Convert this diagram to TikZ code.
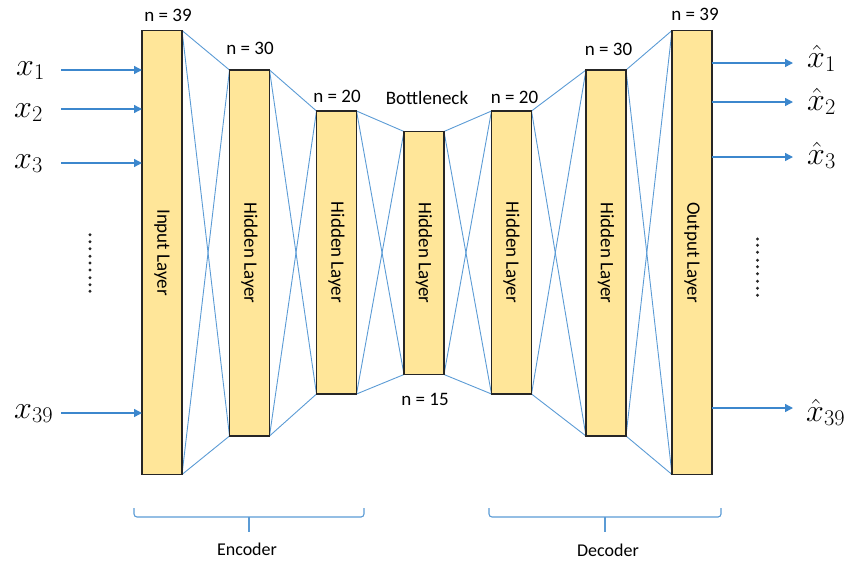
\RequirePackage{fix-cm}
\documentclass[tikz,border=0pt]{standalone}
\usepackage{fontspec}
\setmainfont{Carlito}
\usetikzlibrary{arrows.meta}
\definecolor{boxfill}{HTML}{FFE699}
\definecolor{conn}{HTML}{5B9BD5}
\definecolor{arrc}{HTML}{3C87CD}
\begin{document}
\begin{tikzpicture}[x=1pt,y=-1pt,
  layer/.style={draw=black!85,line width=1.2pt,fill=boxfill,minimum width=40pt,inner sep=0pt,outer sep=0pt},
  ltext/.style={rotate=-90,font=\fontsize{19}{22}\selectfont,inner sep=0pt},
  ntext/.style={font=\fontsize{19}{22}\selectfont,anchor=base,inner sep=0pt},
  btext/.style={font=\fontsize{18}{21}\selectfont,anchor=base,inner sep=0pt},
  xlab/.style={font=\fontsize{32}{38}\selectfont,anchor=base west,inner sep=0pt},
  conline/.style={conn,line width=0.9pt},
  arr/.style={arrc,line width=1.4pt,-{Triangle[length=8pt,width=8pt]}},
  bracel/.style={conn,line width=1.1pt,rounded corners=3pt},
  dotc/.style={fill=black!85}]
\useasboundingbox (0,0) rectangle (849,563);
% layers
\node[layer,minimum height=444pt] (b1) at (162,252.5) {};
\node[layer,minimum height=366pt] (b2) at (249.5,253) {};
\node[layer,minimum height=283pt] (b3) at (336.5,252.5) {};
\node[layer,minimum height=243pt] (b4) at (424,253) {};
\node[layer,minimum height=283pt] (b5) at (511.5,252.5) {};
\node[layer,minimum height=366pt] (b6) at (606,253) {};
\node[layer,minimum height=444pt] (b7) at (692,252.5) {};
% connectors
\foreach \a/\b in {b1/b2,b2/b3,b3/b4,b4/b5,b5/b6,b6/b7}{
  \draw[conline] (\a.north east) -- (\b.north west);
  \draw[conline] (\a.north east) -- (\b.south west);
  \draw[conline] (\a.south east) -- (\b.north west);
  \draw[conline] (\a.south east) -- (\b.south west);
}
% redraw box outlines on top
\foreach \b in {b1,b2,b3,b4,b5,b6,b7}{
  \draw[draw=black!85,line width=1.2pt] (\b.north west) rectangle (\b.south east);
}
% layer texts
\node[ltext] (t1) at (b1) {Input Layer};
\node[ltext] (t2) at (b2) {Hidden Layer};
\node[ltext] (t3) at (b3) {Hidden Layer};
\node[ltext] (t4) at (b4) {Hidden Layer};
\node[ltext] (t5) at (b5) {Hidden Layer};
\node[ltext] (t6) at (b6) {Hidden Layer};
\node[ltext] (t7) at (b7) {Output Layer};
% size labels
\node[ntext] (n1) at (168,21) {n = 39};
\node[ntext] (n2) at (250,54) {n = 30};
\node[ntext] (n3) at (337,102) {n = 20};
\node[ntext] (bn) at (427,104) {Bottleneck};
\node[ntext] (n5) at (514.5,103) {n = 20};
\node[ntext] (n6) at (608.5,55) {n = 30};
\node[ntext] (n7) at (695,20) {n = 39};
\node[ntext] (n4) at (425,405) {n = 15};
% inputs
\node[xlab] (x1) at (16,75) {$x_1$};
\node[xlab] (x2) at (14,117) {$x_2$};
\node[xlab] (x3) at (14,168) {$x_3$};
\node[xlab] (x39) at (14,418) {$x_{39}$};
\coordinate (i1) at (61,70);
\coordinate (i2) at (61,109);
\coordinate (i3) at (61,163);
\coordinate (i39) at (61,413);
\foreach \c in {i1,i2,i3,i39}{
  \draw[arr] (\c) -- (\c -| b1.west);
}
% outputs
\coordinate (o1) at (793,63);
\coordinate (o2) at (793,102);
\coordinate (o3) at (793,157);
\coordinate (o39) at (793,408);
\foreach \c in {o1,o2,o3,o39}{
  \draw[arr] (\c -| b7.east) -- (\c);
}
\node[xlab] (y1) at (807,67) {$\hat{x}_1$};
\node[xlab] (y2) at (807,110) {$\hat{x}_2$};
\node[xlab] (y3) at (807,164) {$\hat{x}_3$};
\node[xlab] (y39) at (806,421) {$\hat{x}_{39}$};
% dots
\foreach \y in {234.7,241.7,248.7,256.3,263,270,277.7,284.7,291.3}{
  \fill[dotc] (90,\y) circle (1.6pt);
}
\foreach \y in {239,245.3,252.3,260.3,266.7,273.7,281.3,288.3,295.3}{
  \fill[dotc] (757.5,\y) circle (1.6pt);
}
% braces
\draw[bracel] (134,508) -- (134,517) -- (364,517) -- (364,508);
\draw[conn,line width=1.1pt] (249,517) -- (249,532);
\draw[bracel] (489,508) -- (489,517) -- (721,517) -- (721,508);
\draw[conn,line width=1.1pt] (605,517) -- (605,532);
\node[btext] (enc) at (247,555) {Encoder};
\node[btext] (dec) at (608,556) {Decoder};
\end{tikzpicture}
\end{document}
